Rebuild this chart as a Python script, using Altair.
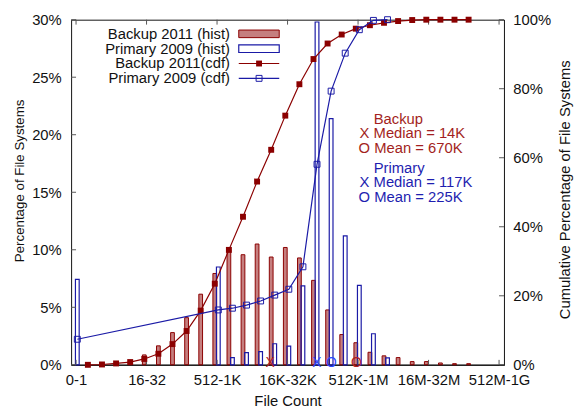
import altair as alt
import pandas as pd

# ---------------- data ----------------
X_LABELS = ["0-1", "16-32", "512-1K", "16K-32K", "512K-1M", "16M-32M", "512M-1G"]
X_TICKS = [0, 5, 10, 15, 20, 25, 30]
Y_LEFT_TICKS = [0, 5, 10, 15, 20, 25, 30]
Y_RIGHT_TICKS = [0, 20, 40, 60, 80, 100]

BINS = list(range(31))
BACKUP_HIST = [0, 0, 0, 0.15, 0.3, 0.86, 1.65, 2.8, 4.1, 6.14, 7.94, 10.0, 9.57,
               10.5, 9.37, 10.2, 9.29, 7.34, 4.77, 2.63, 1.92, 1.09, 0.78, 0.63,
               0.28, 0.28, 0.16, 0.1, 0.1, 0, 0]
PRIMARY_HIST = [7.43, 0, 0, 0, 0, 0, 0, 0, 0, 0, 8.5, 0.63, 1.06, 1.14, 1.83,
                1.63, 6.86, 29.8, 21.4, 11.2, 6.9, 2.7, 0.6, 0, 0, 0, 0, 0, 0, 0, 0]

BACKUP_CDF_BINS = list(range(1, 29))
BACKUP_CDF = [0.0, 0.1, 0.4, 0.8, 1.7, 3.2, 6.0, 9.8, 15.7, 23.5, 33.3, 42.9, 53.1,
              62.3, 72.2, 81.3, 88.6, 93.1, 95.7, 97.4, 98.4, 99.1, 99.6, 99.9,
              100, 100, 100, 100]
PRIMARY_CDF_BINS = [0, 10, 11, 12, 13, 14, 15, 16, 17, 18, 19, 20, 21, 22]
PRIMARY_CDF = [7.4, 15.9, 16.4, 17.3, 18.5, 20.2, 21.9, 28.4, 58.1, 79.3, 90.3,
               97.1, 99.8, 100]

# median / mean markers along the x axis (position in bin units)
MARK_TEXT = ["X", "X", "O", "O"]
MARK_POS = [13.77, 17.08, 18.1, 19.88]
MARK_GROUP = ["backup", "primary", "primary", "backup"]

LEGEND_TEXT = ["Backup 2011 (hist)", "Primary 2009 (hist)",
               "Backup 2011(cdf)", "Primary 2009 (cdf)"]
NOTE_BACKUP = ["Backup", "X Median = 14K", "O Mean = 670K"]
NOTE_PRIMARY = ["Primary", "X Median = 117K", "O Mean = 225K"]

# ---------------- styling / layout constants ----------------
FONT = "Liberation Sans"
RED = "#8B0000"
BLUE = "#1A1AA6"
RED_TXT = "#A31F22"
BLUE_TXT = "#1E1EB0"
MARK_COLORS = {"backup": "#B02020", "primary": "#2A48FF"}
RED_OFF, BLUE_OFF = -0.16, 0.09
BAR_W = 3.8
W, H = 439, 350

label_js = "[" + ",".join(f"'{s}'" for s in X_LABELS) + "]"
x_axis = alt.Axis(values=X_TICKS, labelExpr=f"{label_js}[round(datum.value/5)]",
                  ticks=False, domain=True, domainColor="#222", domainWidth=1.5,
                  labelFont=FONT, labelFontSize=15, labelColor="#111",
                  labelPadding=8, labelOverlap=False, labelFlush=False, grid=False,
                  title="File Count", titleFont=FONT, titleFontSize=15,
                  titleFontWeight="normal", titleColor="#111",
                  titleBaseline="top", titleY=29)
yl_axis = alt.Axis(values=Y_LEFT_TICKS, labelExpr="datum.value + '%'", ticks=False,
                   domain=False, orient="left", labelFont=FONT, labelFontSize=15,
                   labelColor="#111", labelPadding=10, grid=False,
                   title="Percentage of File Systems", titleFont=FONT,
                   titleFontSize=13.5, titleFontWeight="normal", titleColor="#111",
                   titleAngle=270, titleX=-52, titleY=163, titleAlign="center",
                   titleBaseline="middle")
yr_axis = alt.Axis(values=Y_RIGHT_TICKS, labelExpr="datum.value + '%'", ticks=False,
                   domain=True, domainColor="#222", orient="right",
                   labelFont=FONT, labelFontSize=15, labelColor="#111",
                   labelPadding=9, grid=False,
                   title="Cumulative Percentage of File Systems", titleFont=FONT,
                   titleFontSize=15, titleFontWeight="normal", titleColor="#111",
                   titleAngle=270, titleX=61, titleY=172, titleAlign="center",
                   titleBaseline="middle")


def X(field):
    # every layer carries the identical x axis so that the shared axis merges
    return alt.X(field, scale=alt.Scale(domain=[0, 30], nice=False, zero=False),
                 axis=x_axis)


def YL(field, axis=None):
    return alt.Y(field, scale=alt.Scale(domain=[0, 30], nice=False), axis=axis)


def YR(field, axis=None):
    return alt.Y(field, scale=alt.Scale(domain=[0, 100], nice=False), axis=axis)


hist = pd.DataFrame({"bin": BINS, "backup": BACKUP_HIST, "primary": PRIMARY_HIST})
hist["xr"] = hist["bin"] + RED_OFF
hist["xb"] = hist["bin"] + BLUE_OFF

red_bars = alt.Chart(hist).transform_filter("datum.backup > 0").mark_bar(
    size=BAR_W, fill=RED, fillOpacity=0.5, stroke=RED, strokeWidth=1
).encode(x=X("xr:Q"), y=YL("backup:Q", yl_axis), y2=alt.datum(0))

blue_bars = alt.Chart(hist).transform_filter("datum.primary > 0").mark_bar(
    size=BAR_W, fill="white", fillOpacity=0, stroke=BLUE, strokeWidth=1.2
).encode(x=X("xb:Q"), y=YL("primary:Q"), y2=alt.datum(0))

# inward ticks
xt = pd.DataFrame({"t": X_TICKS})
bottom_ticks = alt.Chart(xt).mark_rule(color="#555").encode(
    x=X("t:Q"), y=alt.value(H), y2=alt.value(H - 5))
top_ticks = alt.Chart(xt).mark_rule(color="#555").encode(
    x=X("t:Q"), y=alt.value(0), y2=alt.value(5))
ylt = pd.DataFrame({"t": Y_LEFT_TICKS})
left_ticks = alt.Chart(ylt).mark_rule(color="#555").encode(
    y=YL("t:Q"), x=alt.value(0), x2=alt.value(5))
yrt = pd.DataFrame({"t": Y_RIGHT_TICKS})
right_ticks = alt.Chart(yrt).mark_rule(color="#555").encode(
    y=YR("t:Q"), x=alt.value(W), x2=alt.value(W - 5))

# median / mean markers
marks = pd.DataFrame({"txt": MARK_TEXT, "pos": MARK_POS, "grp": MARK_GROUP, "zero": 0})
mark_layer = alt.Chart(marks).mark_text(font=FONT, fontSize=14, baseline="middle",
                                        align="center", dy=-2).encode(
    x=X("pos:Q"), y=YL("zero:Q"), text="txt:N",
    color=alt.Color("grp:N", scale=alt.Scale(domain=list(MARK_COLORS),
                                             range=list(MARK_COLORS.values())),
                    legend=None))

# annotation text blocks (left aligned)
NOTE_X = [21.11, 20.11, 20.04]
note_rows = []
for i, t in enumerate(NOTE_BACKUP):
    note_rows.append({"t": t, "x": NOTE_X[i], "y": 21.37 - 1.26 * i, "g": "backup"})
for i, t in enumerate(NOTE_PRIMARY):
    note_rows.append({"t": t, "x": NOTE_X[i], "y": 17.14 - 1.27 * i, "g": "primary"})
notes = pd.DataFrame(note_rows)
note_layer = alt.Chart(notes).mark_text(font=FONT, fontSize=15, align="left",
                                        baseline="middle").encode(
    x=X("x:Q"), y=YL("y:Q"), text="t:N",
    color=alt.Color("g:N", scale=alt.Scale(domain=["backup", "primary"],
                                           range=[RED_TXT, BLUE_TXT]), legend=None))

# manual legend (text right-aligned, sample on the right)
LEG_TOP, LEG_STEP = 28.77, 1.29
LEG_TX, LEG_S0, LEG_S1, LEG_MID = 10.92, 11.54, 14.41, 12.98
leg = pd.DataFrame({"t": LEGEND_TEXT,
                    "y": [LEG_TOP - LEG_STEP * i for i in range(4)]})
leg["x"] = LEG_TX
leg["x0"] = LEG_S0
leg["x1"] = LEG_S1
leg["xm"] = LEG_MID
leg["y0"] = leg["y"] - 0.33
leg["y1"] = leg["y"] + 0.33
leg_text = alt.Chart(leg).mark_text(font=FONT, fontSize=15, align="right",
                                    baseline="middle", color="#111").encode(
    x=X("x:Q"), y=YL("y:Q"), text="t:N")
leg_red_box = alt.Chart(leg.iloc[[0]]).mark_rect(
    fill=RED, fillOpacity=0.5, stroke=RED, strokeWidth=1).encode(
    x=X("x0:Q"), x2="x1:Q", y=YL("y0:Q"), y2="y1:Q")
leg_blue_box = alt.Chart(leg.iloc[[1]]).mark_rect(
    fill="white", stroke=BLUE, strokeWidth=1.2).encode(
    x=X("x0:Q"), x2="x1:Q", y=YL("y0:Q"), y2="y1:Q")
leg_red_line = alt.Chart(leg.iloc[[2]]).mark_rule(color=RED, strokeWidth=1.2).encode(
    x=X("x0:Q"), x2="x1:Q", y=YL("y:Q"))
leg_blue_line = alt.Chart(leg.iloc[[3]]).mark_rule(color=BLUE, strokeWidth=1.2).encode(
    x=X("x0:Q"), x2="x1:Q", y=YL("y:Q"))
leg_red_pt = alt.Chart(leg.iloc[[2]]).mark_point(
    shape="square", size=36, filled=True, color=RED, opacity=1).encode(
    x=X("xm:Q"), y=YL("y:Q"))
leg_blue_pt = alt.Chart(leg.iloc[[3]]).mark_point(
    shape="square", size=36, filled=False, color=BLUE, strokeWidth=1, opacity=1).encode(
    x=X("xm:Q"), y=YL("y:Q"))

# CDF curves
rc = pd.DataFrame({"bin": BACKUP_CDF_BINS, "cdf": BACKUP_CDF})
rc["x"] = rc["bin"] + RED_OFF
bc = pd.DataFrame({"bin": PRIMARY_CDF_BINS, "cdf": PRIMARY_CDF})
bc["x"] = bc["bin"] + BLUE_OFF

red_line = alt.Chart(rc).mark_line(color=RED, strokeWidth=1.2).encode(
    x=X("x:Q"), y=YR("cdf:Q", yr_axis))
red_pts = alt.Chart(rc).mark_point(shape="square", size=36, filled=True,
                                   color=RED, opacity=1).encode(
    x=X("x:Q"), y=YR("cdf:Q"))
blue_line = alt.Chart(bc).mark_line(color=BLUE, strokeWidth=1.2).encode(
    x=X("x:Q"), y=YR("cdf:Q"))
blue_pts = alt.Chart(bc).mark_point(shape="square", size=36, filled=False,
                                    color=BLUE, strokeWidth=1, opacity=1).encode(
    x=X("x:Q"), y=YR("cdf:Q"))

chart = alt.layer(
    red_bars, blue_bars, bottom_ticks, top_ticks, left_ticks, right_ticks,
    mark_layer, note_layer, leg_text, leg_red_box, leg_blue_box,
    leg_red_line, leg_blue_line, leg_red_pt, leg_blue_pt,
    red_line, red_pts, blue_line, blue_pts,
).resolve_scale(y="independent", color="independent").properties(
    width=W, height=H,
    padding={"left": 64, "top": 9, "right": 71, "bottom": 45},
    autosize=alt.AutoSizeParams(type="none"),
    background="white",
).configure_view(stroke="#111", strokeWidth=1)

chart.save("out.html", embed_options={"renderer": "svg", "actions": False})
